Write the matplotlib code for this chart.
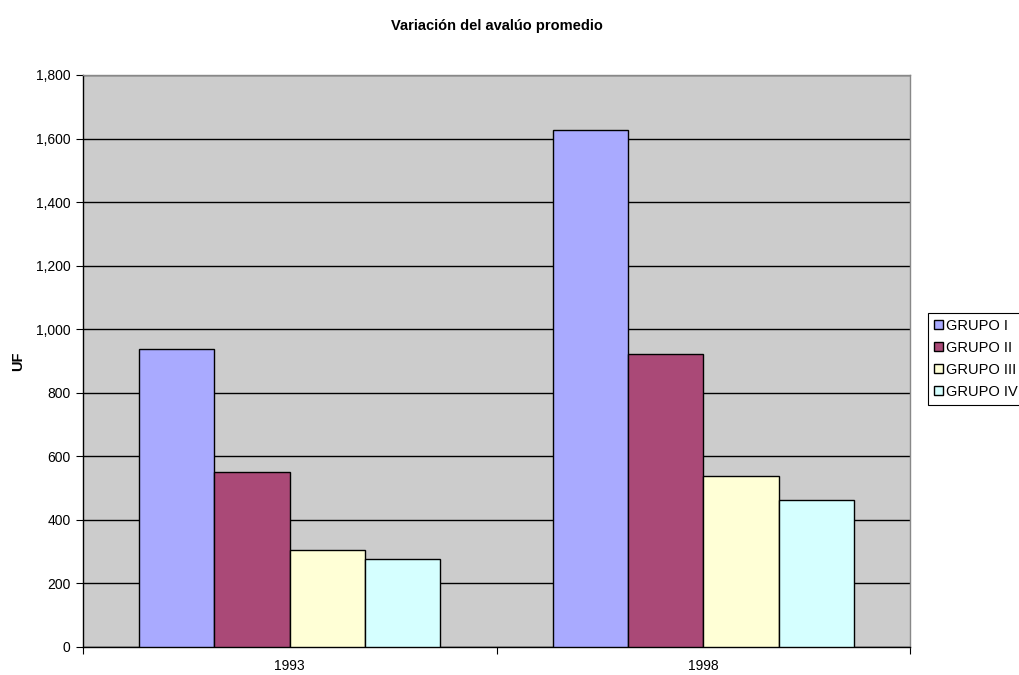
import numpy as np
import matplotlib
matplotlib.use("Agg")
import matplotlib.pyplot as plt
from matplotlib.ticker import FuncFormatter

plt.rcParams['font.family'] = ['Liberation Sans', 'DejaVu Sans']

years = ['1993', '1998']
groups = ['GRUPO I', 'GRUPO II', 'GRUPO III', 'GRUPO IV']
values = {
    'GRUPO I': [937, 1626],
    'GRUPO II': [550, 923],
    'GRUPO III': [306, 538],
    'GRUPO IV': [278, 463],
}
colors = ['#A9AAFF', '#AA4977', '#FFFFD6', '#D5FFFF']

fig = plt.figure(figsize=(10.19, 6.75), dpi=100)
ax = fig.add_axes([83 / 1019, 28 / 675, 827 / 1019, 572 / 675])
ax.set_facecolor('#CCCCCC')

x = np.arange(len(years))
width = 0.182
for i, g in enumerate(groups):
    offs = (i - 1.5) * width
    ax.bar(x + offs, values[g], width, color=colors[i], edgecolor='black',
           linewidth=1.0, label=g, zorder=3)

ax.set_xlim(-0.5, 1.5)
ax.set_ylim(0, 1800)
ax.set_yticks(np.arange(0, 1801, 200))
ax.yaxis.set_major_formatter(FuncFormatter(lambda v, p: f'{int(v):,}'))
ax.grid(axis='y', color='black', linewidth=1.0, zorder=1)

# category labels sit between the boundary ticks
ax.set_xticks([-0.5, 0.5, 1.5])
ax.set_xticklabels([])
ax.set_xticks(x, minor=True)
ax.set_xticklabels(years, minor=True)
ax.tick_params(axis='x', which='major', length=5, direction='out', color='black')
ax.tick_params(axis='x', which='minor', length=0, pad=9, labelsize=10)
ax.tick_params(axis='y', length=5, direction='out', labelsize=10, pad=4)

for s in ['left', 'bottom']:
    ax.spines[s].set_color('black')
    ax.spines[s].set_linewidth(1.0)
for s in ['top', 'right']:
    ax.spines[s].set_color('#888888')
    ax.spines[s].set_linewidth(1.0)

fig.text(18 / 1019, 1 - 361 / 675, 'UF', rotation=90, ha='center', va='center',
         fontsize=10.5, fontweight='bold')
fig.text(497 / 1019, 1 - 26 / 675, 'Variación del avalúo promedio',
         ha='center', va='center', fontsize=10.5, fontweight='bold')

leg = ax.legend(loc='upper left', bbox_to_anchor=(928 / 1019, 1 - 313 / 675),
                bbox_transform=fig.transFigure, fontsize=10.5, frameon=True,
                fancybox=False, edgecolor='black', framealpha=1,
                handlelength=0.6, handleheight=0.6, handletextpad=0.25,
                labelspacing=0.55, borderpad=0.4, borderaxespad=0)
leg.get_frame().set_linewidth(0.8)

fig.savefig('out.png', dpi=100)
